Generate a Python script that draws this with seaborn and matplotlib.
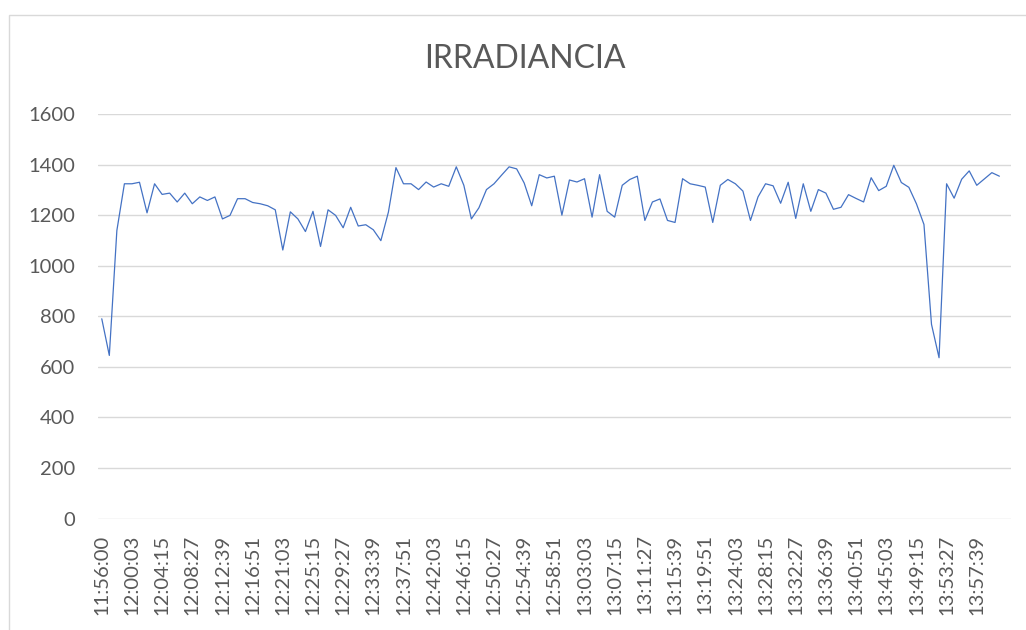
import matplotlib
matplotlib.use("Agg")
import matplotlib.pyplot as plt
import matplotlib.patches as mpatches
import seaborn as sns
import pandas as pd

# Irradiance readings, one per sample (W/m2)
irradiance = [
    790, 645, 1139, 1324, 1324, 1330, 1209, 1324, 1282, 1287,
    1252, 1287, 1245, 1272, 1258, 1272, 1185, 1199, 1265, 1265,
    1250, 1245, 1237, 1221, 1062, 1213, 1185, 1135, 1215, 1076,
    1221, 1199, 1150, 1231, 1157, 1162, 1142, 1099, 1212, 1388,
    1324, 1324, 1301, 1331, 1311, 1324, 1314, 1391, 1318, 1185,
    1229, 1301, 1324, 1358, 1391, 1383, 1327, 1237, 1360, 1347,
    1354, 1200, 1339, 1331, 1344, 1192, 1360, 1215, 1192, 1318,
    1341, 1354, 1179, 1252, 1264, 1179, 1171, 1344, 1324, 1318,
    1311, 1171, 1318, 1341, 1324, 1295, 1179, 1272, 1324, 1316,
    1247, 1330, 1187, 1324, 1215, 1301, 1287, 1223, 1231, 1281,
    1266, 1252, 1348, 1297, 1314, 1397, 1329, 1310, 1245, 1163,
    768, 636, 1324, 1267, 1342, 1375, 1318, 1343, 1368, 1354,
]

# Time labels shown on the category axis (every 4th sample)
time_labels = [
    "11:56:00", "12:00:03", "12:04:15", "12:08:27", "12:12:39",
    "12:16:51", "12:21:03", "12:25:15", "12:29:27", "12:33:39",
    "12:37:51", "12:42:03", "12:46:15", "12:50:27", "12:54:39",
    "12:58:51", "13:03:03", "13:07:15", "13:11:27", "13:15:39",
    "13:19:51", "13:24:03", "13:28:15", "13:32:27", "13:36:39",
    "13:40:51", "13:45:03", "13:49:15", "13:53:27", "13:57:39",
]
label_step = 4
y_ticks = [0, 200, 400, 600, 800, 1000, 1200, 1400, 1600]

sns.set_style("white")
plt.rcParams["font.family"] = ["Lato", "DejaVu Sans"]

df = pd.DataFrame({"sample": range(len(irradiance)), "irradiance": irradiance})

fig = plt.figure(figsize=(10.26, 6.30), dpi=100)
ax = fig.add_axes([98 / 1026, 1 - 518.5 / 630, (1010.7 - 98) / 1026, (518.5 - 114) / 630])

text_color = "#595959"
grid_color = "#D9D9D9"

for y in y_ticks:
    ax.axhline(y, color=grid_color, linewidth=1.0, zorder=0)

sns.lineplot(data=df, x="sample", y="irradiance", ax=ax,
             color="#4472C4", linewidth=0.9, zorder=3)

ax.set_xlim(-0.5, len(irradiance) + 0.5)
ax.set_ylim(0, 1600)
ax.set_yticks(y_ticks)
ax.set_yticklabels([str(v) for v in y_ticks])
ax.set_xticks([i * label_step for i in range(len(time_labels))])
ax.set_xticklabels(time_labels, rotation=90)
ax.tick_params(axis="both", length=0, labelsize=14.5, colors=text_color)
ax.tick_params(axis="y", pad=16.5)
ax.tick_params(axis="x", pad=11.5)
ax.set_xlabel("")
ax.set_ylabel("")
for s in ax.spines.values():
    s.set_visible(False)

fig.text(525 / 1026, 1 - 59 / 630, "IRRADIANCIA", ha="center", va="center",
         fontsize=23, color=text_color)

# Chart area border
fig.patches.append(mpatches.Rectangle((9 / 1026, -0.05), 1.2, 1 - 15 / 630 + 0.05,
                                      transform=fig.transFigure, fill=False,
                                      edgecolor="#D9D9D9", linewidth=1.0))

fig.savefig("out.png", dpi=100)
